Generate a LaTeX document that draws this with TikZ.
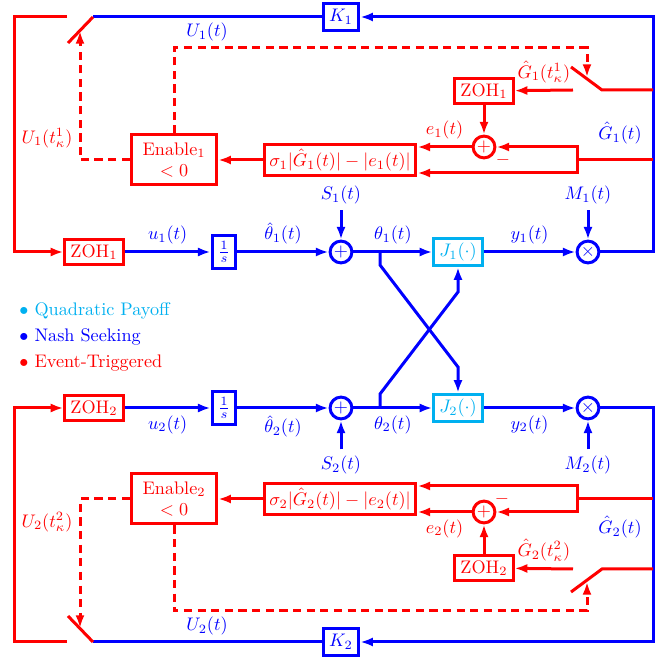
\documentclass[tikz,border=0pt]{standalone}
\usepackage{amsmath}
\usepackage{amssymb}
\usepackage{tikz}
\usetikzlibrary{arrows.meta,positioning}
\definecolor{nashblue}{RGB}{0,0,255}
\definecolor{etred}{RGB}{255,0,0}
\definecolor{payoffcyan}{RGB}{0,176,240}
\tikzset{
    %Define standard arrow tip
    >={Latex[length=7pt,width=5pt]},
    %Define style for boxes
    nashbox/.style={
           rectangle,
           draw=nashblue, line width=1.65pt,
           text=nashblue,
           inner sep=1pt,
           text centered},
    gainbox/.style={
           nashbox,
           minimum width=19.5pt,
           minimum height=14.5pt},
    intbox/.style={
           nashbox,
           minimum width=13pt,
           minimum height=18.3pt},
    payoffbox/.style={
           rectangle,
           draw=payoffcyan, line width=1.65pt,
           text=payoffcyan,
           minimum width=26.5pt,
           minimum height=15pt,
           inner sep=1pt,
           text centered},
    etbox/.style={
           rectangle,
           draw=etred, line width=1.65pt,
           text=etred,
           inner sep=1pt,
           text centered},
    zohbox/.style={
           etbox,
           minimum width=32pt,
           minimum height=14pt},
    costbox/.style={
           etbox,
           minimum width=83.5pt,
           minimum height=17.5pt},
    enablebox/.style={
           etbox,
           align=center,
           minimum width=47pt,
           minimum height=27.5pt},
    nashsum/.style={
           circle,
           draw=nashblue, line width=1.65pt,
           text=nashblue,
           minimum size=12pt,
           inner sep=0pt},
    etsum/.style={
           circle,
           draw=etred, line width=1.65pt,
           text=etred,
           minimum size=12pt,
           inner sep=0pt},
    % Define line styles
    nashline/.style={draw=nashblue, line width=1.65pt},
    etline/.style={draw=etred, line width=1.65pt},
    trigline/.style={etline, dash pattern=on 4.5pt off 3pt},
    nashlbl/.style={text=nashblue},
    etlbl/.style={text=etred}
}
\begin{document}
\begin{tikzpicture}[x=0.55pt,y=-0.55pt]
\useasboundingbox (0,0) rectangle (665,662);

 %nodes, player 1
\node[zohbox](zoh1) at (94,252){ZOH$_1$};
\node[intbox](int1) at (224,252){$\frac{1}{s}$};
\node[nashsum](sum1) at (341,252){$+$};
\node[payoffbox](J1) at (458,252){$J_1(\cdot)$};
\node[nashsum](prod1) at (588,252){$\times$};
\node[nashlbl, above=16pt of sum1](S1){$S_1(t)$};
\node[nashlbl, above=16pt of prod1](M1){$M_1(t)$};
\node[gainbox](K1) at (341,17){$K_1$};
\node[costbox](cost1) at (340,160){$\sigma_1|\hat{G}_1(t)|-|e_1(t)|$};
\node[enablebox](en1) at (174,160){Enable$_1$\\$<0$};
\node[etsum](err1) at (484,147){$+$};
\node[zohbox](zohg1) at (484,91){ZOH$_1$};

 %nodes, player 2
\node[zohbox](zoh2) at (94,408){ZOH$_2$};
\node[intbox](int2) at (224,408){$\frac{1}{s}$};
\node[nashsum](sum2) at (341,408){$+$};
\node[payoffbox](J2) at (458,408){$J_2(\cdot)$};
\node[nashsum](prod2) at (588,408){$\times$};
\node[nashlbl, below=16pt of sum2](S2){$S_2(t)$};
\node[nashlbl, below=16pt of prod2](M2){$M_2(t)$};
\node[gainbox](K2) at (341,642){$K_2$};
\node[costbox](cost2) at (340,499){$\sigma_2|\hat{G}_2(t)|-|e_2(t)|$};
\node[enablebox](en2) at (174,499){Enable$_2$\\$<0$};
\node[etsum](err2) at (484,512){$+$};
\node[zohbox](zohg2) at (484,568){ZOH$_2$};

 %corners and switch points
\coordinate (c1) at (653,17);
\coordinate (c2) at (653,642);
\coordinate (sw1p) at (93,17);
\coordinate (sw1l) at (68,43);
\coordinate (sw1c) at (67,17);
\coordinate (lc1) at (15,17);
\coordinate (sw2p) at (93,642);
\coordinate (sw2l) at (68,616);
\coordinate (sw2c) at (67,642);
\coordinate (lc2) at (15,642);
\coordinate (br1) at (380,252);
\coordinate (x1a) at (380,265);
\coordinate (x1b) at (458,367);
\coordinate (br2) at (380,408);
\coordinate (x2a) at (380,394);
\coordinate (x2b) at (458,292);
\coordinate (g1a) at (653,160);
\coordinate (g1b) at (577,160);
\coordinate (g1c) at (577,173);
\coordinate (g2a) at (653,499);
\coordinate (g2b) at (577,499);
\coordinate (g2c) at (577,486);
\coordinate (h1a) at (653,90);
\coordinate (h1p) at (602,90);
\coordinate (h1l) at (571,67);
\coordinate (h1c) at (573,90);
\coordinate (h2a) at (653,569);
\coordinate (h2p) at (602,569);
\coordinate (h2l) at (571,592);
\coordinate (h2c) at (573,569);
\coordinate (d1b) at (587,48);
\coordinate (d1c) at (587,77);
\coordinate (d1e) at (80,31);
\coordinate (d2b) at (587,611);
\coordinate (d2c) at (587,582);
\coordinate (d2e) at (80,628);

 %nash seeking loop 1
\draw[nashline,->] (zoh1) -- node[above,nashlbl]{$u_1(t)$} (int1);
\draw[nashline,->] (int1) -- node[above,nashlbl]{$\hat{\theta}_1(t)$} (sum1);
\draw[nashline,->] (sum1) -- node[above,nashlbl]{$\theta_1(t)$} (J1);
\draw[nashline,->] (J1) -- node[above,nashlbl]{$y_1(t)$} (prod1);
\draw[nashline,->] (S1) -- (sum1);
\draw[nashline,->] (M1) -- (prod1);
\draw[nashline,->] (prod1) -| (c1) -- (K1);
\draw[nashline] (K1) -- (sw1p);
\draw[etline] (sw1p) -- (sw1l);
\draw[etline,->] (sw1c) -- (lc1) |- (zoh1);

 %nash seeking loop 2
\draw[nashline,->] (zoh2) -- node[below,nashlbl]{$u_2(t)$} (int2);
\draw[nashline,->] (int2) -- node[below,nashlbl]{$\hat{\theta}_2(t)$} (sum2);
\draw[nashline,->] (sum2) -- node[below,nashlbl]{$\theta_2(t)$} (J2);
\draw[nashline,->] (J2) -- node[below,nashlbl]{$y_2(t)$} (prod2);
\draw[nashline,->] (S2) -- (sum2);
\draw[nashline,->] (M2) -- (prod2);
\draw[nashline,->] (prod2) -| (c2) -- (K2);
\draw[nashline] (K2) -- (sw2p);
\draw[etline] (sw2p) -- (sw2l);
\draw[etline,->] (sw2c) -- (lc2) |- (zoh2);

 %coupling through the payoffs
\draw[nashline,->] (br1) -- (x1a) -- (x1b) -- (J2);
\draw[nashline,->] (br2) -- (x2a) -- (x2b) -- (J1);

 %event triggering 1
\draw[etline] (h1a) -- (h1p) -- (h1l);
\draw[etline,->] (h1c) -- node[above,etlbl]{$\hat{G}_1(t^1_\kappa)$} (zohg1);
\draw[etline,->] (zohg1) -- (err1);
\draw[etline] (g1a) -- (g1b);
\draw[etline,->] (g1b) |- (err1);
\draw[etline,->] (g1b) -- (g1c) -- (cost1.east |- g1c);
\draw[etline,->] (err1) -- node[above,etlbl]{$e_1(t)$} (cost1.east |- err1);
\draw[etline,->] (cost1) -- (en1);
\draw[trigline,->] (en1) |- (d1b) -- (d1c);
\draw[trigline,->] (en1) -| (d1e);
\node[etlbl] at (503,160){$-$};

 %event triggering 2
\draw[etline] (h2a) -- (h2p) -- (h2l);
\draw[etline,->] (h2c) -- node[above,etlbl]{$\hat{G}_2(t^2_\kappa)$} (zohg2);
\draw[etline,->] (zohg2) -- (err2);
\draw[etline] (g2a) -- (g2b);
\draw[etline,->] (g2b) |- (err2);
\draw[etline,->] (g2b) -- (g2c) -- (cost2.east |- g2c);
\draw[etline,->] (err2) -- node[below,etlbl]{$e_2(t)$} (cost2.east |- err2);
\draw[etline,->] (cost2) -- (en2);
\draw[trigline,->] (en2) |- (d2b) -- (d2c);
\draw[trigline,->] (en2) -| (d2e);
\node[etlbl] at (502,499){$-$};

 %signal labels
\node[nashlbl] at (207,32){$U_1(t)$};
\node[etlbl] at (47,138){$U_1(t^1_\kappa)$};
\node[nashlbl] at (620,133){$\hat{G}_1(t)$};
\node[nashlbl] at (207,626){$U_2(t)$};
\node[etlbl] at (47,522){$U_2(t^2_\kappa)$};
\node[nashlbl] at (620,527){$\hat{G}_2(t)$};

 %legend
\node[anchor=west, text=payoffcyan](lg1) at (13,311){$\bullet$ Quadratic Payoff};
\node[anchor=west, text=nashblue](lg2) at (13,337){$\bullet$ Nash Seeking};
\node[anchor=west, text=etred](lg3) at (13,363){$\bullet$ Event-Triggered};

\end{tikzpicture}
\end{document}
